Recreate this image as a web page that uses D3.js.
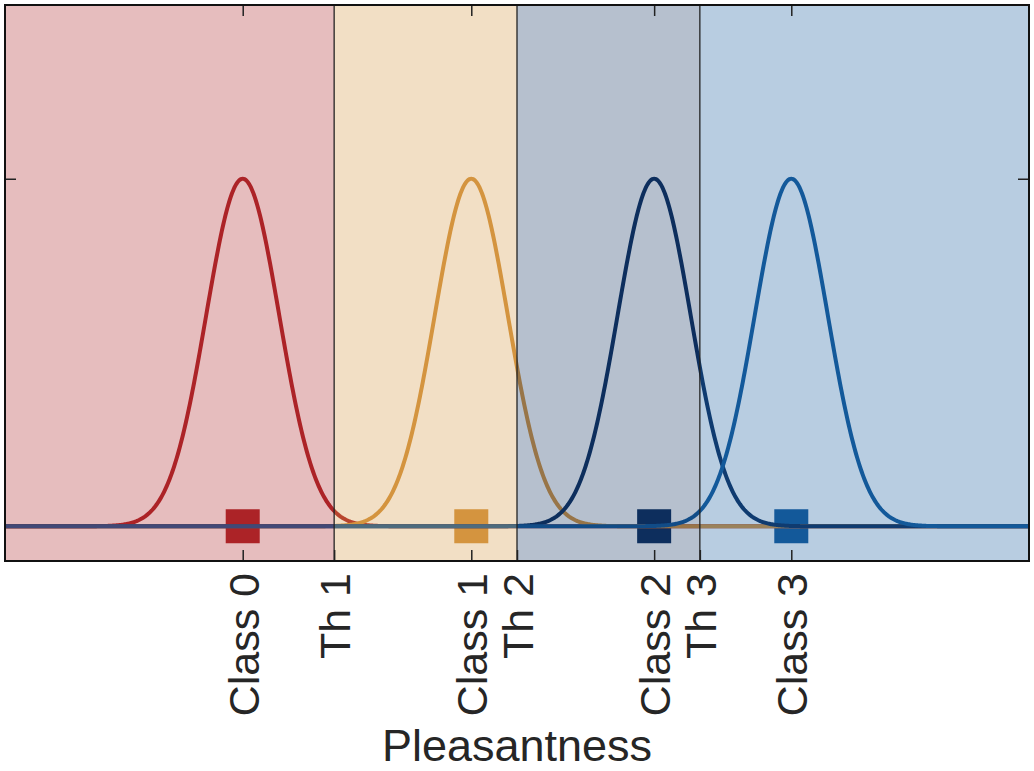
<!DOCTYPE html>
<html lang="en">

<head>
    <meta charset="utf-8">
    <title>Pleasantness classes and thresholds</title>
    <script src="https://d3js.org/d3.v7.min.js"></script>
    <style type="text/css">
        body { margin: 0; background: #fff; }
        text { font-family: "Liberation Sans", Arial, sans-serif; fill: #262626; }
    </style>
</head>

<body>
    <script type="text/javascript">

        //Width and height
        var w = 1034;
        var h = 771;
        var padL = 5, padR = 1029, padT = 5, padB = 561;

        // data
        var classNames = ["Class 0", "Class 1", "Class 2", "Class 3"];
        var classMeans = [0.5, 1.75, 2.75, 3.5];
        var classSigma = [0.2, 0.2, 0.2, 0.2];
        var classColors = ["#ad2327", "#d4943f", "#0d2f5e", "#14599a"];
        var thresholdNames = ["Th 1", "Th 2", "Th 3"];
        var thresholds = [1, 2, 3];
        var xDomain = [-0.8, 4.8];
        var yDomain = [-0.1, 1.5];
        var yTicks = [1];

        var xScale = d3.scaleLinear().domain(xDomain).range([padL, padR]);
        var yScale = d3.scaleLinear().domain(yDomain).range([padB, padT]);

        var svg = d3.select("body")
            .append("svg")
            .attr("width", w)
            .attr("height", h);

        // squares at the class means (under everything else)
        svg.selectAll("rect.marker")
            .data(classMeans)
            .enter()
            .append("rect")
            .attr("class", "marker")
            .attr("x", function (d) { return xScale(d) - 17; })
            .attr("y", yScale(0) - 17)
            .attr("width", 34)
            .attr("height", 34)
            .attr("fill", function (d, i) { return classColors[i]; });

        // gaussian curve for each class
        var xs = d3.range(xDomain[0], xDomain[1] + 0.001, 0.005);
        var line = d3.line()
            .x(function (d) { return xScale(d[0]); })
            .y(function (d) { return yScale(d[1]); });

        svg.selectAll("path.curve")
            .data(classMeans)
            .enter()
            .append("path")
            .attr("class", "curve")
            .attr("d", function (m, i) {
                var s = classSigma[i];
                return line(xs.map(function (x) {
                    return [x, Math.exp(-(x - m) * (x - m) / (2 * s * s))];
                }));
            })
            .attr("fill", "none")
            .attr("stroke", function (d, i) { return classColors[i]; })
            .attr("stroke-width", 4);

        // decision regions drawn on top, semi transparent
        var bounds = [xDomain[0]].concat(thresholds, [xDomain[1]]);
        svg.selectAll("rect.region")
            .data(classMeans)
            .enter()
            .append("rect")
            .attr("class", "region")
            .attr("x", function (d, i) { return xScale(bounds[i]); })
            .attr("y", padT)
            .attr("width", function (d, i) { return xScale(bounds[i + 1]) - xScale(bounds[i]); })
            .attr("height", padB - padT)
            .attr("fill", function (d, i) { return classColors[i]; })
            .attr("opacity", 0.3);

        // threshold lines
        svg.selectAll("line.th")
            .data(thresholds)
            .enter()
            .append("line")
            .attr("class", "th")
            .attr("x1", function (d) { return xScale(d); })
            .attr("x2", function (d) { return xScale(d); })
            .attr("y1", padT)
            .attr("y2", padB)
            .attr("stroke", "#222")
            .attr("stroke-width", 1.3);

        // axes
        var tickVals = classMeans.concat(thresholds).sort(d3.ascending);
        var tickLabels = {};
        classMeans.forEach(function (d, i) { tickLabels[d] = classNames[i]; });
        thresholds.forEach(function (d, i) { tickLabels[d] = thresholdNames[i]; });

        var xAxis = svg.append("g")
            .attr("transform", "translate(0," + padB + ")")
            .call(d3.axisBottom(xScale)
                .tickValues(tickVals)
                .tickFormat(function (d) { return tickLabels[d]; })
                .tickSize(-11)
                .tickSizeOuter(0));

        xAxis.selectAll("text")
            .attr("transform", "rotate(-90)")
            .attr("x", -12)
            .attr("y", 0)
            .attr("dy", "0.36em")
            .style("text-anchor", "end")
            .attr("font-size", "43px")
            .attr("font-family", "Liberation Sans, Arial, sans-serif")
            .attr("fill", "#262626");

        svg.append("g")
            .attr("transform", "translate(0," + padT + ")")
            .call(d3.axisTop(xScale).tickValues(classMeans).tickFormat("").tickSize(-11).tickSizeOuter(0));

        svg.append("g")
            .attr("transform", "translate(" + padL + ",0)")
            .call(d3.axisLeft(yScale).tickValues(yTicks).tickFormat("").tickSize(-11).tickSizeOuter(0));

        svg.append("g")
            .attr("transform", "translate(" + padR + ",0)")
            .call(d3.axisRight(yScale).tickValues(yTicks).tickFormat("").tickSize(-11).tickSizeOuter(0));

        svg.selectAll(".domain").remove();
        svg.selectAll(".tick line")
            .attr("stroke", "#222")
            .attr("stroke-width", 1.5);

        // frame
        svg.append("rect")
            .attr("x", padL)
            .attr("y", padT)
            .attr("width", padR - padL)
            .attr("height", padB - padT)
            .attr("fill", "none")
            .attr("stroke", "#111")
            .attr("stroke-width", 2);

        // axis title
        svg.append("text")
            .attr("x", (padL + padR) / 2)
            .attr("y", 761)
            .attr("text-anchor", "middle")
            .attr("font-size", "45px")
            .text("Pleasantness");

    </script>
</body>

</html>
